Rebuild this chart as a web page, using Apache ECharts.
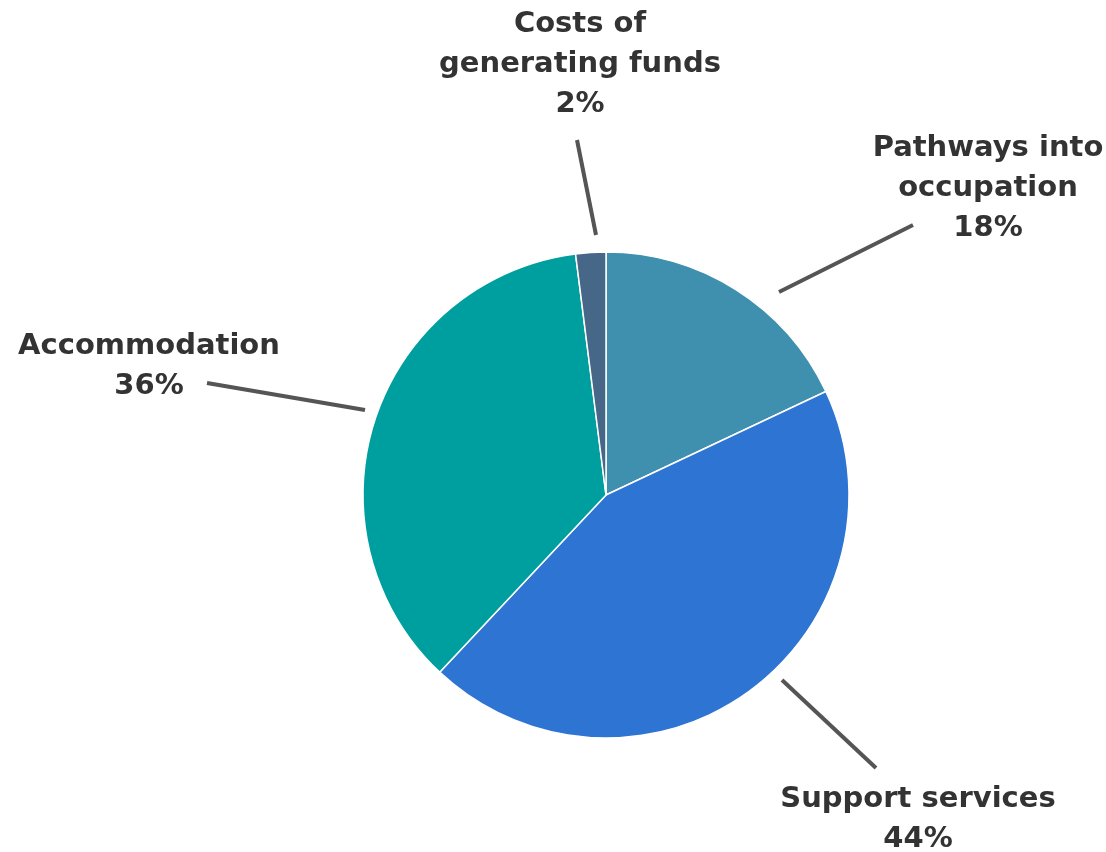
<!DOCTYPE html>
<html>
<head>
<meta charset="utf-8">
<script src="https://cdn.jsdelivr.net/npm/echarts@6/dist/echarts.min.js"></script>
<style>html,body{margin:0;padding:0;background:#fff;}#c{width:1106px;height:852px;}</style>
</head>
<body>
<div id="c"></div>
<script>
var categories = ['Pathways into\noccupation', 'Support services', 'Accommodation', 'Costs of\ngenerating funds'];
var values = [18, 44, 36, 2];
var colors = ['#3f8faf', '#2d74d3', '#009f9f', '#466787'];

// label anchor (text centre) and leader line, in pixels
var labelSpots = [
  { x: 988, y: 188, line: [[779, 292], [913, 225]] },
  { x: 918, y: 819, line: [[782, 680], [876, 768]] },
  { x: 149, y: 366, line: [[365, 410], [207, 383]] },
  { x: 580, y: 64,  line: [[596, 235], [577, 140]] }
];

var chart = echarts.init(document.getElementById('c'));
chart.setOption({
  backgroundColor: '#ffffff',
  animation: false,
  series: [{
    type: 'pie',
    center: [606, 495],
    radius: 243,
    startAngle: 90,
    clockwise: true,
    data: categories.map(function (n, i) {
      return { name: n, value: values[i], itemStyle: { color: colors[i] } };
    }),
    itemStyle: { borderColor: '#ffffff', borderWidth: 1.5 },
    label: {
      show: true,
      position: 'outside',
      formatter: function (p) { return p.name + '\n' + p.value + '%'; },
      fontFamily: '"DejaVu Sans", sans-serif',
      fontWeight: 'bold',
      fontSize: 29,
      lineHeight: 40,
      color: '#333333',
      align: 'center'
    },
    labelLine: { show: true, lineStyle: { color: '#555555', width: 4 } },
    labelLayout: function (p) {
      var s = labelSpots[p.dataIndex];
      return {
        x: s.x, y: s.y, align: 'center', verticalAlign: 'middle',
        labelLinePoints: s.line
      };
    },
    emphasis: { disabled: true }
  }]
});
</script>
</body>
</html>
